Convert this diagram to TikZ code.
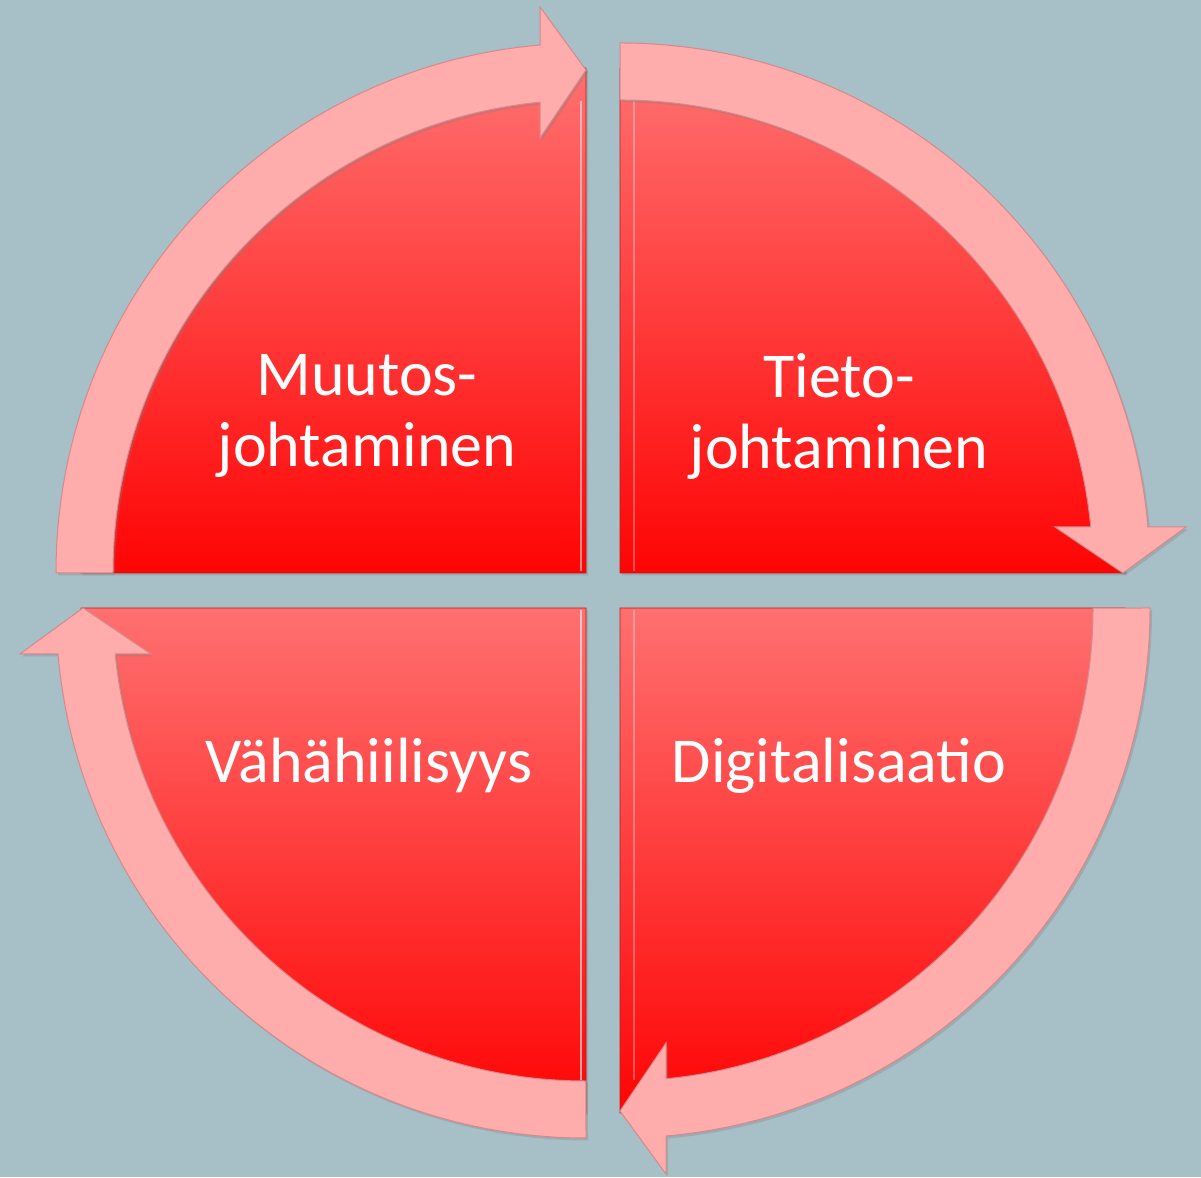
\documentclass[tikz,border=0pt]{standalone}
\usepackage{fontspec}
\setmainfont{Carlito}
\usetikzlibrary{shadows}
\definecolor{bgc}{RGB}{167,191,198}
\definecolor{arrowfill}{RGB}{255,172,172}
\definecolor{arrowline}{RGB}{212,138,138}
\definecolor{sectop}{RGB}{255,112,112}
\definecolor{secbot}{RGB}{255,4,4}
\definecolor{secline}{RGB}{180,30,30}
\tikzset{
  sector/.style={top color=sectop, bottom color=secbot, draw=secline, line width=0.8pt,
    drop shadow={shadow xshift=2pt, shadow yshift=-2.5pt, opacity=0.3}},
  cyclearrow/.style={fill=arrowfill, draw=arrowline, line width=1pt, line join=miter,
    drop shadow={shadow xshift=2pt, shadow yshift=-2.5pt, opacity=0.3}},
  bevel/.style={draw=white, line width=2.5pt, opacity=0.5},
  quadtext/.style={text=white, font=\fontsize{64}{71}\selectfont, inner sep=0pt, align=center}
}
\begin{document}
\begin{tikzpicture}[x=1pt,y=1pt]
\useasboundingbox (0,0) rectangle (1201,1177);
\fill[bgc] (0,0) rectangle (1201,1177);

% quarter sectors
\path[sector] (586,604) -- ++(-505,0) arc[start angle=180, end angle=90, radius=505pt] -- cycle;
\path[sector] (620,604) -- ++(0,505) arc[start angle=90, end angle=0, radius=505pt] -- cycle;
\path[sector] (620,569) -- ++(505,0) arc[start angle=0, end angle=-90, radius=505pt] -- cycle;
\path[sector] (586,569) -- ++(0,-505) arc[start angle=270, end angle=180, radius=505pt] -- cycle;

% bevel highlights
\draw[bevel] (581,606) -- (581,1076);
\draw[bevel, opacity=0.3] (634,606) -- (634,1076);
\draw[bevel, opacity=0.6] (581,567) -- (581,97);
\draw[bevel, opacity=0.3] (634,567) -- (634,97);

% circular arrows
\path[cyclearrow] (56,604) arc[start angle=180, end angle=94.98, radius=530pt]
  -- (540,1170) -- (586,1107) -- (540,1039) -- (540,1074.8)
  arc[start angle=95.58, end angle=180, radius=473pt] -- cycle;
\path[cyclearrow] (620,1134) arc[start angle=90, end angle=4.98, radius=530pt]
  -- (1186,650) -- (1123,604) -- (1055,650) -- (1090.8,650)
  arc[start angle=5.58, end angle=90, radius=473pt] -- cycle;
\path[cyclearrow] (1150,569) arc[start angle=0, end angle=-85.02, radius=530pt]
  -- (666,3) -- (620,66) -- (666,134) -- (666,98.2)
  arc[start angle=-84.42, end angle=0, radius=473pt] -- cycle;
\path[cyclearrow] (586,39) arc[start angle=270, end angle=184.98, radius=530pt]
  -- (20,523) -- (83,569) -- (151,523) -- (115.2,523)
  arc[start angle=185.58, end angle=270, radius=473pt] -- cycle;

% texts
\node[quadtext] (muutos) at (367,761) {Muutos-\\johtaminen};
\node[quadtext] (tieto) at (839,761) {Tieto-\\johtaminen};
\node[quadtext, anchor=base] (vaha) at (369,394) {Vähähiilisyys};
\node[quadtext, anchor=base] (digi) at (839,394) {Digitalisaatio};
\end{tikzpicture}
\end{document}
